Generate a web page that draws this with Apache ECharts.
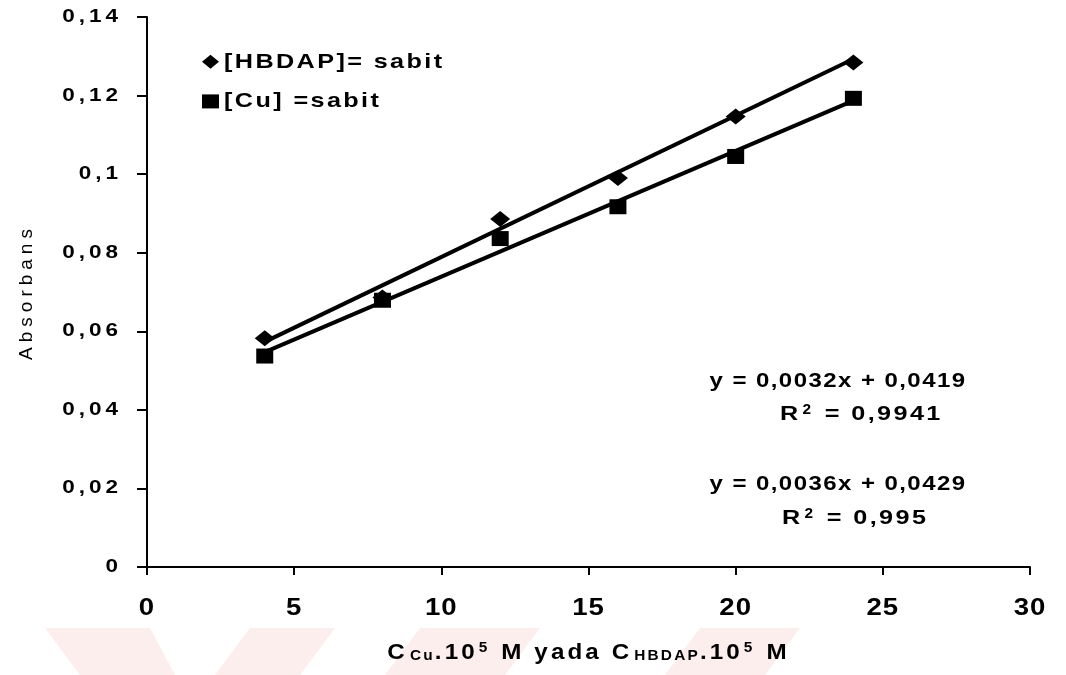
<!DOCTYPE html>
<html>
<head>
<meta charset="utf-8">
<script src="https://cdn.jsdelivr.net/npm/echarts@6/dist/echarts.min.js"></script>
<style>
  html, body { margin: 0; padding: 0; background: #fff; }
  #chart { width: 1066px; height: 675px; }
</style>
</head>
<body>
<div id="chart"></div>
<script>
// Concentration (x 10^5 M)
const concentrations = [4, 8, 12, 16, 20, 24];
// Absorbance, [HBDAP] held constant
const absHBDAP = [0.0582, 0.0686, 0.0886, 0.0990, 0.1147, 0.1284];
// Absorbance, [Cu] held constant
const absCu = [0.0537, 0.0679, 0.0836, 0.0917, 0.1045, 0.1193];
const seriesNames = ['[HBDAP]= sabit', '[Cu] =sabit'];
// Linear fits for each series: slope, intercept, R²
const fitSlopes = [0.0036, 0.0032];
const fitIntercepts = [0.0429, 0.0419];
const fitR2 = ['0,995', '0,9941'];
const xTickLabels = ['0', '5', '10', '15', '20', '25', '30'];
const yTickLabels = ['0', '0,02', '0,04', '0,06', '0,08', '0,1', '0,12', '0,14'];

// Extended, tracked lettering for the canvas text.
// Keyed by font size in px: [letter spacing px, horizontal stretch].
const LETTERING = {
  13: [0.5, 1.2],
  14: [2, 1.1],
  18: [3.2, 1.25],
  19: [5, 1],
  20: [1.2, 1.2],
  21: [2.0, 1.2],
  22: [2.8, 1.1],
  23: [0.8, 1.2]
};
(function () {
  const proto = CanvasRenderingContext2D.prototype;
  if (!('letterSpacing' in proto)) return;
  const lettering = function (ctx) {
    const m = /(\d+(?:\.\d+)?)px/.exec(ctx.font);
    const p = (m && LETTERING[Math.round(+m[1])]) || [0, 1];
    ctx.letterSpacing = p[0] + 'px';
    return p[1];
  };
  const fill = proto.fillText, stroke = proto.strokeText, measure = proto.measureText;
  const draw = function (fn) {
    return function (text, x, y) {
      const sx = lettering(this);
      if (sx === 1) return fn.call(this, text, x, y);
      this.save();
      this.translate(x, y);
      this.scale(sx, 1);
      fn.call(this, text, 0, 0);
      this.restore();
    };
  };
  proto.fillText = draw(fill);
  proto.strokeText = draw(stroke);
  proto.measureText = function (text) {
    const sx = lettering(this);
    const m = measure.call(this, text);
    if (sx === 1) return m;
    return {
      width: m.width * sx,
      actualBoundingBoxLeft: m.actualBoundingBoxLeft * sx,
      actualBoundingBoxRight: m.actualBoundingBoxRight * sx,
      actualBoundingBoxAscent: m.actualBoundingBoxAscent,
      actualBoundingBoxDescent: m.actualBoundingBoxDescent,
      fontBoundingBoxAscent: m.fontBoundingBoxAscent,
      fontBoundingBoxDescent: m.fontBoundingBoxDescent
    };
  };
})();

const FONT = 'Liberation Sans';
const comma = v => String(v).replace('.', ',');
const points = ys => concentrations.map((x, i) => [x, ys[i]]);
const fitLine = k => {
  const x0 = concentrations[0], x1 = concentrations[concentrations.length - 1];
  return [[x0, fitSlopes[k] * x0 + fitIntercepts[k]], [x1, fitSlopes[k] * x1 + fitIntercepts[k]]];
};
const eqText = k => 'y = ' + comma(fitSlopes[k]) + 'x + ' + comma(fitIntercepts[k]);
const r2Text = k => '{b|R}{p|2}{b| = ' + fitR2[k] + '}';

const axisStroke = { color: '#000', width: 2 };

const chart = echarts.init(document.getElementById('chart'), null, { renderer: 'canvas' });

const eqStyle = {
  fontFamily: FONT, fontSize: 20, fontWeight: 'bold', fill: '#000',
  textAlign: 'center', textVerticalAlign: 'middle'
};
const r2Style = {
  fontFamily: FONT, fontSize: 21, fontWeight: 'bold', fill: '#000',
  textAlign: 'left', textVerticalAlign: 'middle',
  rich: {
    b: { fontFamily: FONT, fontSize: 21, fontWeight: 'bold', fill: '#000', lineHeight: 26 },
    p: { fontFamily: FONT, fontSize: 14, fontWeight: 'bold', fill: '#000', lineHeight: 26, verticalAlign: 'top', padding: [0, 2, 0, 2] }
  }
};

// faint diagonal bands along the bottom edge
const bands = [
  [[45, 628], [150, 628], [175, 675], [80, 675]],
  [[250, 628], [335, 628], [300, 675], [215, 675]],
  [[420, 628], [540, 628], [505, 675], [385, 675]],
  [[700, 628], [800, 628], [765, 675], [665, 675]]
];

const option = {
  animation: false,
  backgroundColor: '#fff',
  textStyle: { fontFamily: FONT, color: '#000' },
  grid: { left: 147, right: 36, top: 17, bottom: 108, containLabel: false, outerBoundsMode: 'none' },
  legend: {
    data: seriesNames,
    orient: 'vertical',
    left: 197,
    top: 43,
    itemWidth: 17,
    itemHeight: 14,
    itemGap: 12,
    textStyle: { fontFamily: FONT, fontSize: 21, fontWeight: 'bold', color: '#000' }
  },
  xAxis: {
    type: 'value',
    min: 0,
    max: 30,
    interval: 5,
    axisLine: { show: true, lineStyle: axisStroke },
    axisTick: { show: true, length: 8, lineStyle: axisStroke },
    splitLine: { show: false },
    axisLabel: {
      fontFamily: FONT, fontSize: 23, fontWeight: 'bold', color: '#000', margin: 27,
      formatter: v => xTickLabels[Math.round(v / 5)]
    },
    name: '{m|C}{sub|Cu}{m|.10}{sup|5}{m| M yada C}{sub|HBDAP}{m|.10}{sup|5}{m| M}',
    nameLocation: 'middle',
    nameGap: 72,
    nameTextStyle: {
      fontFamily: FONT,
      color: '#000',
      rich: {
        m: { fontFamily: FONT, fontSize: 22, fontWeight: 'bold', lineHeight: 28, color: '#000' },
        sub: { fontFamily: FONT, fontSize: 14, fontWeight: 'bold', lineHeight: 28, verticalAlign: 'bottom', color: '#000', padding: [0, 0, 2, 2] },
        sup: { fontFamily: FONT, fontSize: 14, fontWeight: 'bold', lineHeight: 28, verticalAlign: 'top', color: '#000', padding: [0, 2, 0, 1] }
      }
    }
  },
  yAxis: {
    type: 'value',
    min: 0,
    max: 0.14,
    interval: 0.02,
    axisLine: { show: true, lineStyle: axisStroke },
    axisTick: { show: true, length: 10, lineStyle: axisStroke },
    splitLine: { show: false },
    axisLabel: {
      fontFamily: FONT, fontSize: 18, fontWeight: 'bold', color: '#000', margin: 25,
      formatter: v => yTickLabels[Math.round(v / 0.02)]
    },
    name: 'Absorbans',
    nameLocation: 'middle',
    nameRotate: 90,
    nameGap: 108,
    nameTextStyle: { fontFamily: FONT, fontSize: 19, color: '#000' }
  },
  series: [
    {
      name: seriesNames[0], type: 'scatter', data: points(absHBDAP),
      symbol: 'diamond', symbolSize: [20, 16], itemStyle: { color: '#000', opacity: 1 }, z: 4
    },
    {
      name: seriesNames[1], type: 'scatter', data: points(absCu),
      symbol: 'rect', symbolSize: [17, 15], itemStyle: { color: '#000', opacity: 1 }, z: 4
    },
    {
      type: 'line', data: fitLine(0), showSymbol: false, silent: true,
      lineStyle: { color: '#000', width: 4 }, z: 3
    },
    {
      type: 'line', data: fitLine(1), showSymbol: false, silent: true,
      lineStyle: { color: '#000', width: 4 }, z: 3
    }
  ],
  graphic: [
    ...bands.map(p => ({
      type: 'polygon', z: -10, silent: true,
      shape: { points: p }, style: { fill: '#fdeeee' }
    })),
    { type: 'text', x: 838, y: 381, style: Object.assign({ text: eqText(1) }, eqStyle) },
    { type: 'text', x: 780, y: 414, style: Object.assign({ text: r2Text(1) }, r2Style) },
    { type: 'text', x: 838, y: 484, style: Object.assign({ text: eqText(0) }, eqStyle) },
    { type: 'text', x: 782, y: 518, style: Object.assign({ text: r2Text(0) }, r2Style) }
  ]
};

chart.setOption(option);
</script>
</body>
</html>
